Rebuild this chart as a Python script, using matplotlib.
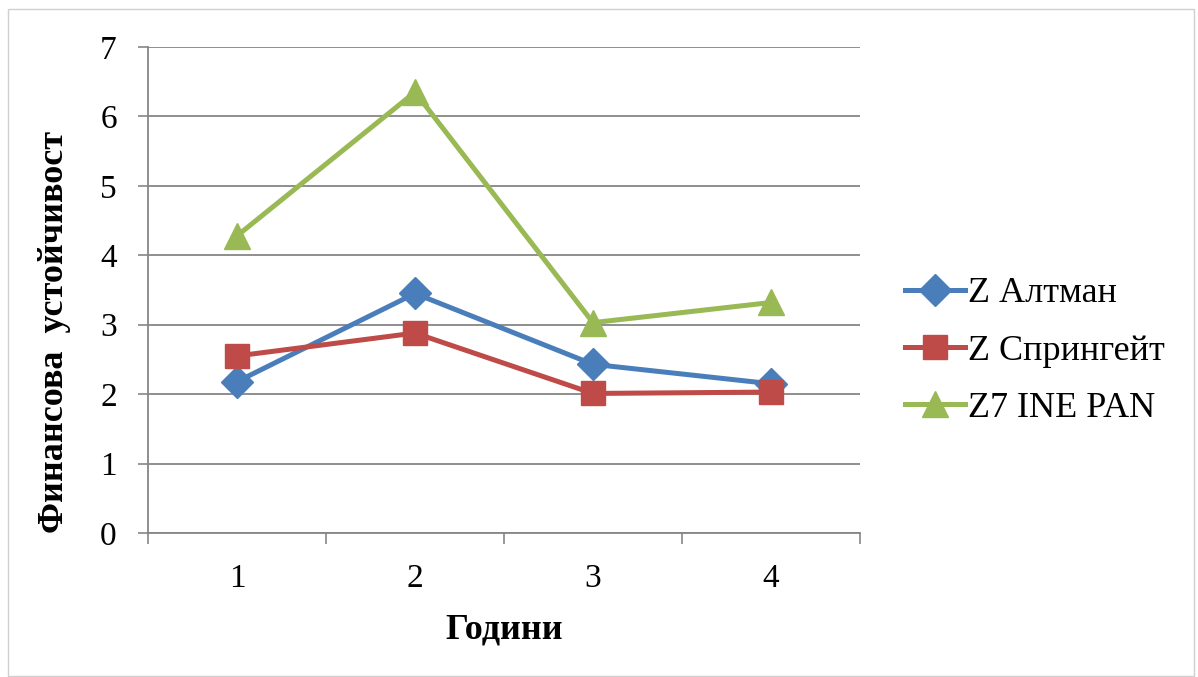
import numpy as np
import matplotlib.pyplot as plt
from matplotlib.patches import Rectangle

plt.rcParams['font.family'] = ['Liberation Serif', 'DejaVu Serif']

godini = [1, 2, 3, 4]
altman = [2.18, 3.45, 2.43, 2.15]
springate = [2.55, 2.88, 2.01, 2.03]
z7_ine_pan = [4.28, 6.35, 3.03, 3.32]
y_ticks = [0, 1, 2, 3, 4, 5, 6, 7]

fig = plt.figure(figsize=(11.98, 6.77), dpi=100)
ax = fig.add_axes([148/1198, 1 - 533/677, (860-148)/1198, (533-47)/677])

ax.plot(godini, altman, '-D', color='#4A7EBB', lw=3.6, ms=16, label='Z Алтман')
ax.plot(godini, springate, '-s', color='#BE4B48', lw=3.6, ms=17, label='Z Спрингейт')
ax.plot(godini, z7_ine_pan, '-^', color='#98B954', lw=3.6, ms=19, label='Z7 INE PAN')

ax.set_xlim(0.5, 4.5)
ax.set_ylim(0, 7)
ax.set_yticks(y_ticks)
ax.set_xticks(godini)
ax.set_xticks([0.5, 1.5, 2.5, 3.5, 4.5], minor=True)
ax.tick_params(axis='x', which='major', length=0, labelsize=24, pad=22)
ax.tick_params(axis='x', which='minor', length=8, width=1.2, color='#868686')
ax.tick_params(axis='y', length=7.5, width=1.2, color='#868686', labelsize=24, pad=15)
ax.grid(axis='y', color='#868686', lw=1.3)
ax.set_axisbelow(True)
for s in ['top', 'right']:
    ax.spines[s].set_visible(False)
for s in ['left', 'bottom']:
    ax.spines[s].set_color('#868686')
    ax.spines[s].set_linewidth(1.3)

ax.set_ylabel('Финансова  устойчивост', fontsize=26, fontweight='bold')
ax.yaxis.set_label_coords((71-148)/712, (533-332)/486)
ax.set_xlabel('Години', fontsize=26, fontweight='bold', labelpad=14)

fig.legend(loc='center left', bbox_to_anchor=(905/1198, 1 - 351/677), frameon=False,
           fontsize=26, handlelength=1.67, labelspacing=0.67, handletextpad=0.08,
           borderpad=0, borderaxespad=0)

fig.patches.append(Rectangle((8/1198, 0.002), 1 - 8/1198 - 0.003, 1 - 9/677 - 0.002,
                             transform=fig.transFigure, fill=False, ec='#d0d0d0', lw=1))

fig.savefig('out.png', dpi=100)
